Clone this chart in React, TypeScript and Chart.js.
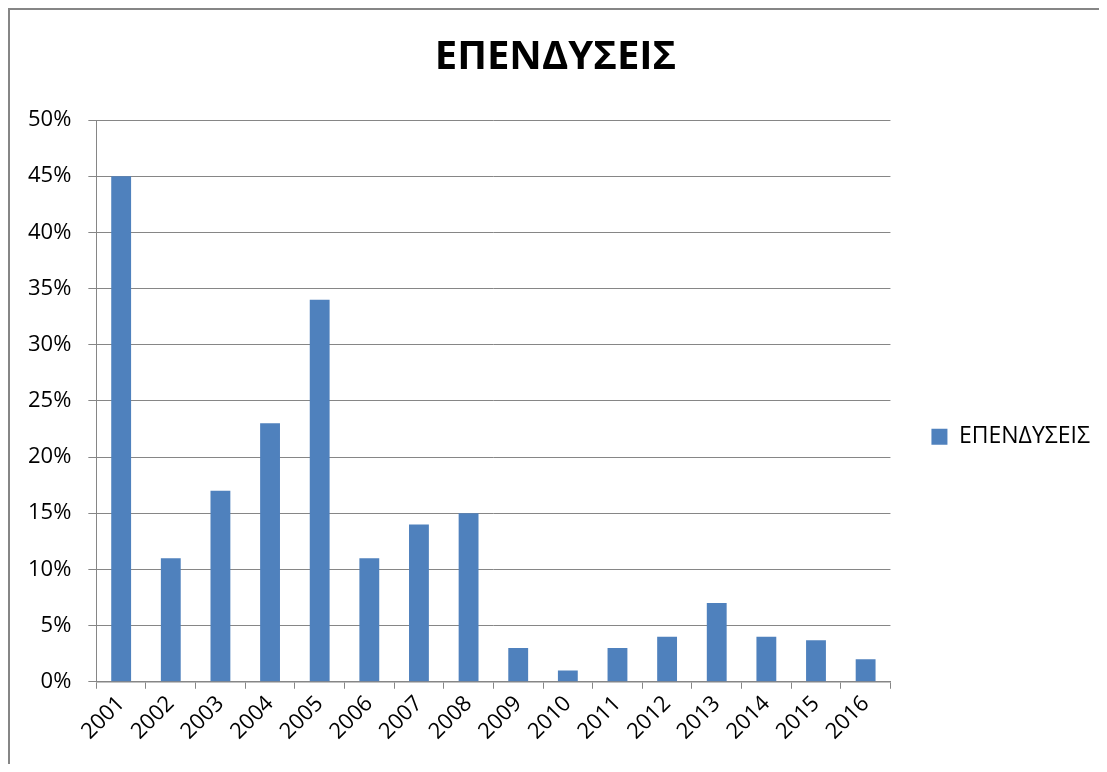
import React, { useEffect, useRef } from "react";
import { Chart, registerables } from "chart.js";

Chart.register(...registerables);

const years = ["2001", "2002", "2003", "2004", "2005", "2006", "2007", "2008", "2009", "2010", "2011", "2012", "2013", "2014", "2015", "2016"];
const investments = [45, 11, 17, 23, 34, 11, 14, 15, 3, 1, 3, 4, 7, 4, 3.7, 2];
const seriesName = "ΕΠΕΝΔΥΣΕΙΣ";
const chartTitle = "ΕΠΕΝΔΥΣΕΙΣ";

const FONT = "'Open Sans', 'DejaVu Sans', sans-serif";
const GRID = "#868686";

if (typeof document !== "undefined") {
  document.documentElement.style.overflow = "hidden";
  document.body.style.overflow = "hidden";
}

export default function App() {
  const ref = useRef<HTMLCanvasElement | null>(null);
  useEffect(() => {
    if (!ref.current) return;
    const chart = new Chart(ref.current, {
      type: "bar",
      data: {
        labels: years,
        datasets: [
          {
            label: seriesName,
            data: investments,
            backgroundColor: "#4F81BD",
            borderWidth: 0,
            barPercentage: 0.4,
            categoryPercentage: 1,
          },
        ],
      },
      options: {
        responsive: false,
        animation: false,
        layout: { padding: { left: 1, right: 7, top: 0, bottom: 17 } },
        plugins: {
          title: {
            display: true,
            text: chartTitle,
            color: "#000",
            font: { family: FONT, size: 40, weight: "bold" },
            padding: { top: 24, bottom: 38 },
          },
          legend: {
            display: true,
            position: "right",
            title: { display: true, text: "", padding: { top: 102, bottom: 0 } },
            labels: {
              boxWidth: 16,
              boxHeight: 16,
              padding: 41,
              color: "#000",
              font: { family: FONT, size: 23 },
            },
          },
          tooltip: { enabled: false },
        },
        scales: {
          x: {
            grid: {
              display: true,
              drawOnChartArea: false,
              drawTicks: true,
              tickLength: 7,
              color: GRID,
              offset: true,
            },
            border: { display: true, color: GRID, width: 1.5 },
            ticks: {
              color: "#000",
              font: { family: FONT, size: 22 },
              minRotation: 45,
              maxRotation: 45,
              padding: 2,
              autoSkip: false,
            },
          },
          y: {
            min: 0,
            max: 50,
            grid: { color: GRID, lineWidth: 1, tickLength: 8 },
            border: { display: true, color: GRID, width: 1 },
            ticks: {
              stepSize: 5,
              color: "#000",
              font: { family: FONT, size: 22 },
              padding: 17,
              callback: (v: any) => v + "%",
            },
          },
        },
      },
    });
    return () => chart.destroy();
  }, []);
  return (
    <div
      style={{
        position: "relative",
        width: 1099,
        height: 756,
        borderTop: "2px solid #868686",
        borderLeft: "2px solid #868686",
        boxSizing: "border-box",
        background: "#fff",
      }}
    >
      <canvas ref={ref} width={1097} height={754} style={{ display: "block" }} />
    </div>
  );
}
